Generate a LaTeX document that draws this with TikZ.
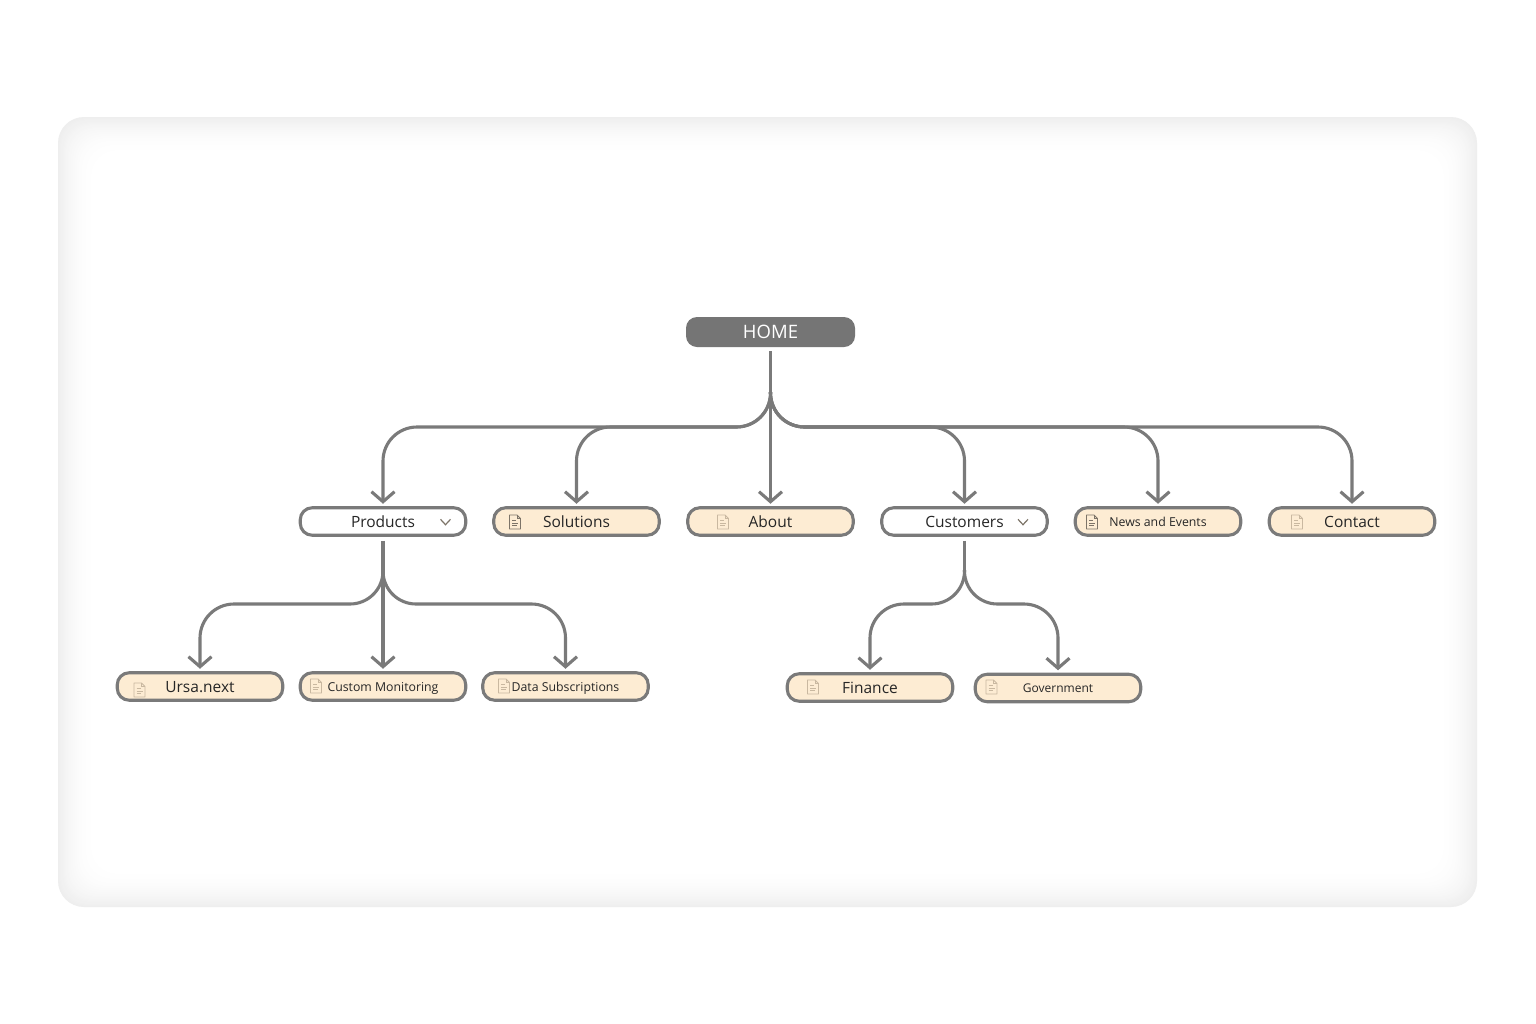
\documentclass[tikz,border=0pt]{standalone}
\usepackage{fontspec}
\setmainfont{Open Sans}
\usetikzlibrary{arrows.meta}
\definecolor{linegrey}{HTML}{7A7A7A}
\definecolor{homegrey}{HTML}{757575}
\definecolor{pagefill}{HTML}{FDECD3}
\definecolor{panelgrey}{HTML}{EEEEEE}
\definecolor{inkdark}{HTML}{262626}
\definecolor{icondark}{HTML}{7D7468}
\definecolor{iconlight}{HTML}{C9B8A0}
\tikzset{
  x=1pt,y=-1pt,
  boxbase/.style={draw=linegrey,line width=3.1pt,rounded corners=12pt,minimum width=165.5pt,minimum height=27.5pt,inner sep=0pt,outer sep=0pt,text=inkdark,text height=12pt,text depth=1pt,font=\fontsize{15.5}{18}\selectfont},
  pagebox/.style={boxbase,fill=pagefill},
  menubox/.style={boxbase,fill=white},
  smalltext/.style={text height=10.4pt,font=\fontsize{12.3}{15}\selectfont},
  homebox/.style={fill=homegrey,rounded corners=11pt,minimum width=169pt,minimum height=30pt,inner sep=0pt,outer sep=0pt,text=white,font=\fontsize{18.5}{22}\selectfont},
  conn/.style={draw=linegrey,line width=3.1pt,-{Straight Barb[length=10pt,width=23pt,line width=3.1pt]},shorten >=4pt},
  stem/.style={draw=linegrey,line width=3.1pt},
  docicon/.pic={
    \draw[line width=.9pt,pic actions,line join=round] (-5.5,-7) -- (2,-7) -- (5.5,-3.5) -- (5.5,7) -- (-5.5,7) -- cycle;
    \draw[line width=.9pt,pic actions] (2,-7) -- (2,-3.5) -- (5.5,-3.5);
    \draw[line width=.9pt,pic actions] (-3,-1.5) -- (1,-1.5) (-3,1.2) -- (3,1.2) (-3,3.9) -- (1.5,3.9);
  },
  chev/.pic={\draw[line width=1.2pt,pic actions] (-5,-2.7) -- (0,2.7) -- (5,-2.7);}
}
\begin{document}
\begin{tikzpicture}
\useasboundingbox (0,0) rectangle (1536,1023);
% panel with soft inner shadow
\fill[white] (0,0) rectangle (1536,1023);
\foreach \i in {0,1,...,40}{
  \pgfmathsetmacro{\mix}{100*(1-(\i/40))^2.2}
  \fill[panelgrey!\mix!white,rounded corners=26pt] (58+\i,117+\i) rectangle (1477-\i,907-\i);
}
% nodes
\node[homebox] (home) at (770.5,332) {HOME};
\node[menubox] (products) at (383,521.5) {Products};
\node[pagebox] (solutions) at (576.5,521.5) {Solutions};
\node[pagebox] (about) at (770.5,521.5) {About};
\node[menubox] (customers) at (964.5,521.5) {Customers};
\node[pagebox,smalltext] (news) at (1158,521.5) {News and Events};
\node[pagebox] (contact) at (1352,521.5) {Contact};
\node[pagebox] (ursa) at (200,686.5) {Ursa.next};
\node[pagebox,smalltext] (custom) at (383,686.5) {Custom Monitoring};
\node[pagebox,smalltext] (data) at (565.5,686.5) {Data Subscriptions};
\node[pagebox] (finance) at (870,687.5) {Finance};
\node[pagebox,smalltext,font=\fontsize{12}{15}\selectfont] (gov) at (1058,688) {Government};
% icons
\pic[draw=icondark] at (515,522) {docicon};
\pic[draw=iconlight] at (723,522) {docicon};
\pic[draw=icondark] at (1092,522) {docicon};
\pic[draw=iconlight] at (1297,522) {docicon};
\pic[draw=iconlight] at (139.5,690) {docicon};
\pic[draw=iconlight] at (316,686) {docicon};
\pic[draw=iconlight] at (504,686) {docicon};
\pic[draw=iconlight] at (813,687) {docicon};
\pic[draw=iconlight] at (991.5,687) {docicon};
\pic[draw=icondark] at (445.5,522) {chev};
\pic[draw=icondark] at (1023,522) {chev};
% hubs
\coordinate (hubA) at (770.5,392);
\coordinate (barA) at (770.5,427);
\coordinate (hubB) at (383,570);
\coordinate (barB) at (383,604);
\coordinate (hubC) at (964.5,570);
\coordinate (barC) at (964.5,604);
% first level
\draw[stem] ([yshift=-4pt]home.south) -- (hubA);
\draw[conn] (hubA) -- (about.north);
\foreach \t in {products,solutions,customers,news,contact}{
  \draw[conn] (hubA) [rounded corners=34pt] -- (barA) [rounded corners=34pt] -- (\t.north |- barA) [sharp corners] -- (\t.north);
}
% second level
\draw[stem] ([yshift=-5.5pt]products.south) -- (hubB);
\draw[conn] (hubB) -- (custom.north);
\foreach \t in {ursa,data}{
  \draw[conn] (hubB) [rounded corners=33pt] -- (barB) [rounded corners=34pt] -- (\t.north |- barB) [sharp corners] -- (\t.north);
}
\draw[stem] ([yshift=-5.5pt]customers.south) -- (hubC);
\foreach \t in {finance,gov}{
  \draw[conn] (hubC) [rounded corners=33pt] -- (barC) [rounded corners=34pt] -- (\t.north |- barC) [sharp corners] -- (\t.north);
}
\end{tikzpicture}
\end{document}
